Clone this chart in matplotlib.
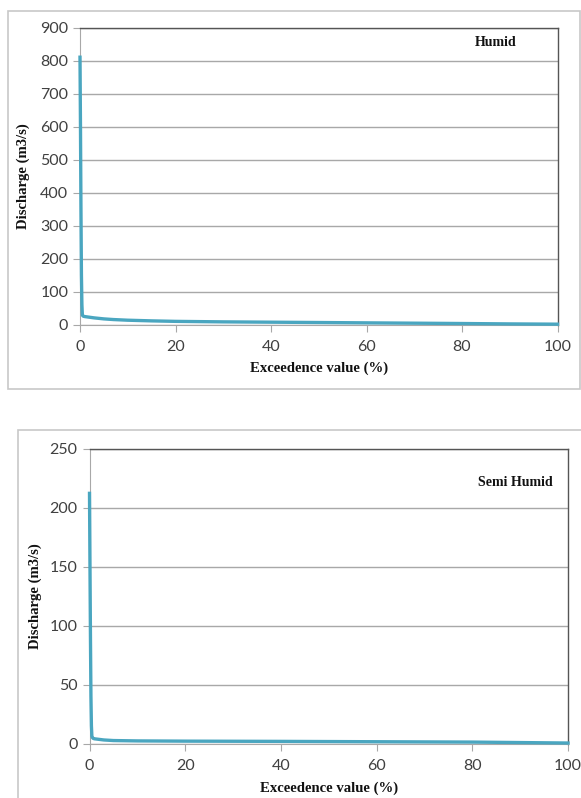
import matplotlib
matplotlib.use("Agg")
import matplotlib.pyplot as plt
from matplotlib.patches import Rectangle

# Data
humid_x = [0, 0.1, 0.2, 0.3, 0.4, 0.5, 0.7, 1, 2, 3, 5, 7, 10, 15, 20, 30, 40, 50, 60, 70, 80, 90, 100]
humid_y = [810, 600, 350, 150, 60, 28, 25, 24, 22, 20, 17, 15, 13, 11, 9.5, 8, 7, 6, 5, 4, 3, 1.8, 1.0]
semi_x = [0, 0.1, 0.2, 0.3, 0.4, 0.5, 0.7, 1, 2, 3, 5, 10, 20, 40, 60, 80, 90, 100]
semi_y = [212, 150, 90, 40, 15, 6, 4.5, 4, 3.5, 3, 2.5, 2.2, 2.0, 1.8, 1.5, 1.2, 0.8, 0.4]

humid_yticks = [0, 100, 200, 300, 400, 500, 600, 700, 800, 900]
semi_yticks = [0, 50, 100, 150, 200, 250]
xticks = [0, 20, 40, 60, 80, 100]

W, H = 581, 798
fig = plt.figure(figsize=(W / 100, H / 100), dpi=100)

line_color = "#4aa6c0"
tick_font = ["Lato", "DejaVu Sans"]
label_font = ["Liberation Serif", "DejaVu Serif"]

def fx(px):
    return px / W

def fy(py):
    return 1 - py / H

# Frames
fig.patches.append(Rectangle((fx(7.5), fy(389)), fx(572), (389 - 10.5) / H,
                             transform=fig.transFigure, fill=False,
                             edgecolor="#c8c8c8", linewidth=1.2))
fig.patches.append(Rectangle((fx(18), fy(810)), fx(600), (810 - 429.5) / H,
                             transform=fig.transFigure, fill=False,
                             edgecolor="#c8c8c8", linewidth=1.2))

def make_axes(l, t, r, b, x, y, yticks, ymax, label, ylabel_x, xlabel_y, lab_x, lab_y):
    ax = fig.add_axes([fx(l), fy(b), fx(r - l), (b - t) / H])
    ax.plot(x, y, color=line_color, linewidth=2.4, solid_joinstyle="round",
            zorder=3, clip_on=False)
    ax.set_xlim(0, 100)
    ax.set_ylim(0, ymax)
    ax.set_xticks(xticks)
    ax.set_yticks(yticks)
    ax.grid(axis="y", color="#a8a8a8", linewidth=1.0)
    ax.set_axisbelow(True)
    for s in ["top", "right"]:
        ax.spines[s].set_color("#555555")
        ax.spines[s].set_linewidth(1.0)
    ax.spines["left"].set_color("#a8a8a8")
    ax.spines["bottom"].set_color("#a8a8a8")
    ax.tick_params(axis="both", direction="out", length=5, color="#a8a8a8",
                   labelcolor="#404040", labelsize=11.5)
    ax.tick_params(axis="x", pad=6)
    for lbl in ax.get_xticklabels() + ax.get_yticklabels():
        lbl.set_family(tick_font)
    ax.set_xlabel("Exceedence value (%)", family=label_font, fontweight="bold",
                  fontsize=10.6, color="#111111")
    ax.xaxis.set_label_coords(0.5, xlabel_y)
    ax.set_ylabel("Discharge (m3/s)", family=label_font, fontweight="bold",
                  fontsize=10.6, color="#111111")
    ax.yaxis.set_label_coords(ylabel_x, 0.5)
    ax.text(lab_x, lab_y, label, transform=ax.transAxes, family=label_font,
            fontweight="bold", fontsize=10, color="#111111", ha="right", va="center")
    return ax

make_axes(80, 27.5, 557.5, 324.5, humid_x, humid_y, humid_yticks, 900, "Humid",
          -0.105, -0.125, 0.915, 0.948)
make_axes(89.5, 448.5, 568, 743.5, semi_x, semi_y, semi_yticks, 250, "Semi Humid",
          -0.099, -0.13, 0.969, 0.886)

fig.savefig("out.png", dpi=100)
